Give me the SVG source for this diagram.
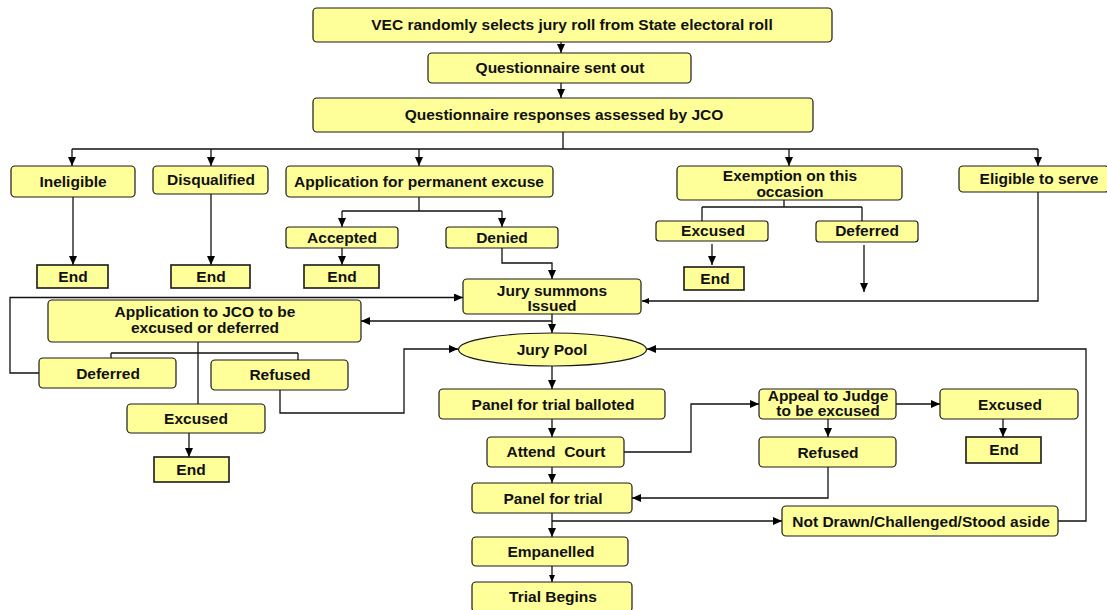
<svg xmlns="http://www.w3.org/2000/svg" width="1107" height="610" viewBox="0 0 1107 610">
<defs>
<marker id="arr" markerUnits="userSpaceOnUse" markerWidth="10" markerHeight="10" refX="9" refY="4" orient="auto"><path d="M0,0 L9,4 L0,8 z" fill="#000"/></marker>
<marker id="arrS" markerUnits="userSpaceOnUse" markerWidth="8" markerHeight="8" refX="7" refY="3" orient="auto"><path d="M0,0 L7,3 L0,6 z" fill="#000"/></marker>
</defs>
<style>
.b{fill:#ffff99;stroke:#1a1a1a;stroke-width:1.2}
.e{fill:#ffff99;stroke:#1a1a1a;stroke-width:1.6}
.t{font-family:"Liberation Sans",Arial,sans-serif;font-weight:bold;font-size:15.5px;text-anchor:middle;fill:#111}
.c{fill:none;stroke:#111;stroke-width:1.3}
.a{marker-end:url(#arr)}
.s{marker-end:url(#arrS)}
</style>
<rect width="1107" height="610" fill="#fff"/>

<g id="connectors">
<path class="c a" d="M561,42 V53"/>
<path class="c a" d="M561,83 V98"/>
<path class="c" d="M563,132 V149 M72,149 H1038"/>
<path class="c a" d="M72,149 V166"/>
<path class="c a" d="M211,149 V166"/>
<path class="c a" d="M419,149 V166"/>
<path class="c a" d="M789,149 V166"/>
<path class="c a" d="M1038,149 V166"/>
<path class="c a" d="M73,197 V265"/>
<path class="c a" d="M211,194 V265"/>
<path class="c" d="M419,197 V211 M342,211 H502"/>
<path class="c a" d="M342,211 V227"/>
<path class="c a" d="M502,211 V227"/>
<path class="c a" d="M342,248 V265"/>
<path class="c a" d="M502,248 V263 H552 V279"/>
<path class="c" d="M784,200 V207 M702,207 H862 M702,207 V221 M862,207 V221"/>
<path class="c a" d="M712,244 V265"/>
<path class="c a" d="M864,245 V292"/>
<path class="c s" d="M1038,192 V301 H642"/>
<path class="c a" d="M39,373 H10 V297.5 H463"/>
<path class="c a" d="M552,321 H361"/>
<path class="c a" d="M552,314 V333"/>
<path class="c" d="M198,342 V404 M111,353 H298 M111,353 V358 M298,353 V360"/>
<path class="c a" d="M280,390 V413 H404 V349 H458"/>
<path class="c a" d="M189,433 V457"/>
<path class="c a" d="M552,366 V389"/>
<path class="c a" d="M552,419 V437"/>
<path class="c a" d="M552,467 V483"/>
<path class="c a" d="M552,513 V537"/>
<path class="c s" d="M552,566 V582"/>
<path class="c a" d="M624,452 H691 V404 H759"/>
<path class="c a" d="M896,404 H940"/>
<path class="c a" d="M828,419 V437"/>
<path class="c a" d="M1003,419 V437"/>
<path class="c a" d="M828,467 V498 H632"/>
<path class="c a" d="M552,521 H782"/>
<path class="c a" d="M1058,521 H1086 V349 H647"/>
</g>

<g id="vec"><rect class="b" x="313" y="8" width="519" height="34" rx="4"/><text class="t" x="572" y="30">VEC randomly selects jury roll from State electoral roll</text></g>
<g id="qsent"><rect class="b" x="428" y="53" width="263" height="30" rx="4"/><text class="t" x="560" y="73">Questionnaire sent out</text></g>
<g id="qassess"><rect class="b" x="313" y="98" width="500" height="34" rx="4"/><text class="t" x="564" y="120">Questionnaire responses assessed by JCO</text></g>

<g id="ineligible"><rect class="b" x="11" y="166" width="124" height="31" rx="4"/><text class="t" x="73" y="187">Ineligible</text></g>
<g id="disqualified"><rect class="b" x="153" y="166" width="115" height="28" rx="4"/><text class="t" x="211" y="185">Disqualified</text></g>
<g id="appperm"><rect class="b" x="286" y="166" width="267" height="31" rx="4"/><text class="t" x="419" y="187">Application for permanent excuse</text></g>
<g id="exemption"><rect class="b" x="677" y="166" width="225" height="34" rx="4"/><text class="t" x="790" y="181">Exemption on this</text><text class="t" x="790" y="197">occasion</text></g>
<g id="eligible"><rect class="b" x="959" y="166" width="150" height="26" rx="4"/><text class="t" x="1039" y="184">Eligible to serve</text></g>

<g id="end1"><rect class="e" x="37" y="265" width="71" height="23"/><text class="t" x="73" y="282">End</text></g>
<g id="end2"><rect class="e" x="171" y="265" width="79" height="23"/><text class="t" x="211" y="282">End</text></g>
<g id="accepted"><rect class="b" x="286" y="227" width="112" height="21" rx="3"/><text class="t" x="342" y="243">Accepted</text></g>
<g id="denied"><rect class="b" x="446" y="227" width="112" height="21" rx="3"/><text class="t" x="502" y="243">Denied</text></g>
<g id="end3"><rect class="e" x="304" y="265" width="75" height="23"/><text class="t" x="342" y="282">End</text></g>

<g id="excused1"><rect class="b" x="656" y="221" width="112" height="20" rx="3"/><text class="t" x="713" y="236">Excused</text></g>
<g id="deferred1"><rect class="b" x="816" y="221" width="102" height="21" rx="3"/><text class="t" x="867" y="236">Deferred</text></g>
<g id="end4"><rect class="e" x="684" y="267" width="60" height="23"/><text class="t" x="715" y="284">End</text></g>

<g id="summons"><rect class="b" x="463" y="279" width="178" height="35" rx="4"/><text class="t" x="552" y="296">Jury summons</text><text class="t" x="552" y="311">Issued</text></g>
<g id="appjco"><rect class="b" x="48" y="300" width="313" height="42" rx="4"/><text class="t" x="205" y="317">Application to JCO to be</text><text class="t" x="205" y="333">excused or deferred</text></g>
<g id="jurypool"><ellipse class="b" cx="552.5" cy="349.5" rx="94" ry="16.5"/><text class="t" x="552" y="355">Jury Pool</text></g>

<g id="deferred2"><rect class="b" x="39" y="358" width="137" height="30" rx="4"/><text class="t" x="108" y="379">Deferred</text></g>
<g id="refused1"><rect class="b" x="211" y="360" width="137" height="30" rx="4"/><text class="t" x="280" y="380">Refused</text></g>
<g id="excused2"><rect class="b" x="127" y="404" width="138" height="29" rx="4"/><text class="t" x="196" y="424">Excused</text></g>
<g id="end5"><rect class="e" x="154" y="457" width="75" height="25"/><text class="t" x="191" y="475">End</text></g>

<g id="balloted"><rect class="b" x="439" y="389" width="226" height="30" rx="4"/><text class="t" x="553" y="410">Panel for trial balloted</text></g>
<g id="attend"><rect class="b" x="487" y="437" width="137" height="30" rx="4"/><text class="t" x="556" y="457" xml:space="preserve">Attend  Court</text></g>
<g id="panel"><rect class="b" x="472" y="483" width="160" height="30" rx="4"/><text class="t" x="553" y="504">Panel for trial</text></g>
<g id="empanelled"><rect class="b" x="472" y="537" width="156" height="29" rx="4"/><text class="t" x="551" y="557">Empanelled</text></g>
<g id="trial"><rect class="b" x="472" y="582" width="160" height="30" rx="4"/><text class="t" x="553" y="602">Trial Begins</text></g>

<g id="appeal"><rect class="b" x="759" y="389" width="137" height="30" rx="4"/><text class="t" x="828" y="401">Appeal to Judge</text><text class="t" x="828" y="416">to be excused</text></g>
<g id="excused3"><rect class="b" x="940" y="389" width="138" height="30" rx="4"/><text class="t" x="1010" y="410">Excused</text></g>
<g id="end6"><rect class="e" x="966" y="437" width="75" height="26"/><text class="t" x="1004" y="455">End</text></g>
<g id="refused2"><rect class="b" x="759" y="437" width="137" height="30" rx="4"/><text class="t" x="828" y="458">Refused</text></g>
<g id="notdrawn"><rect class="b" x="782" y="506" width="276" height="30" rx="4"/><text class="t" x="921" y="527">Not Drawn/Challenged/Stood aside</text></g>
</svg>
